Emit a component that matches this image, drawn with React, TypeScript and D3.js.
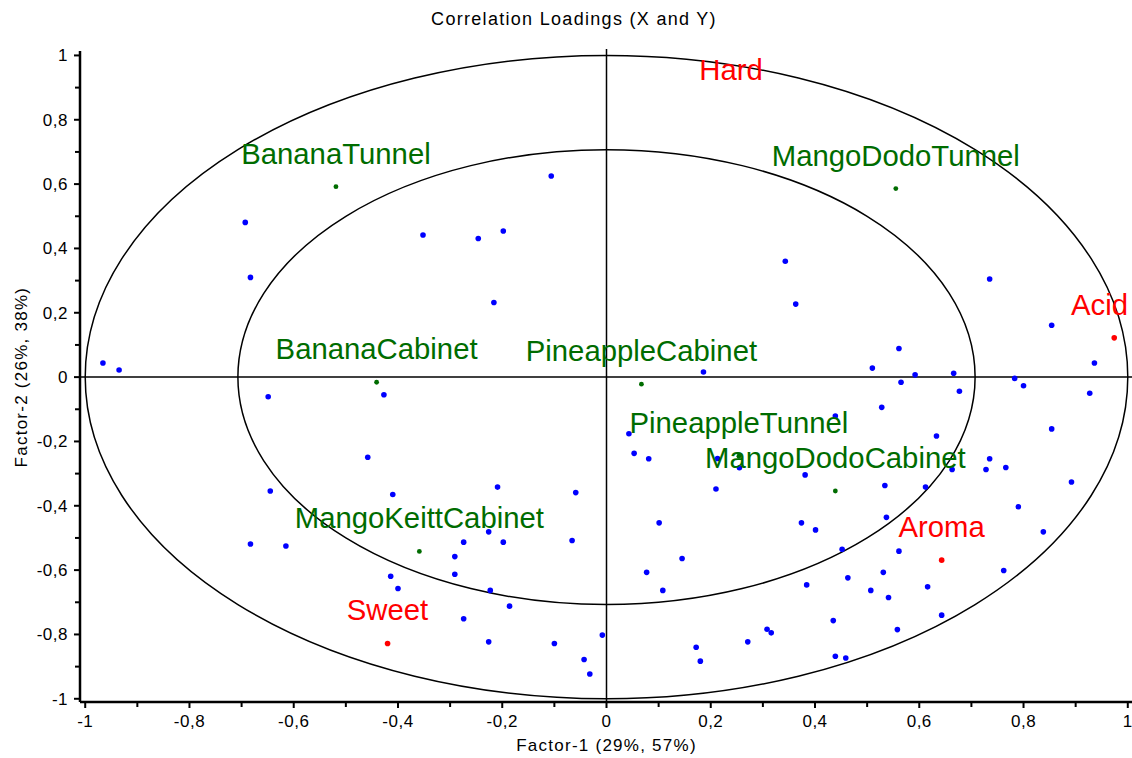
import React, { useEffect, useRef } from "react";
import * as d3 from "d3";

// ---- data ----
const blueX = [
  -0.966, -0.935, -0.693, -0.683, -0.352, -0.106, -0.198, -0.246, -0.216, 0.186,
  0.343, 0.363, 0.735, 0.854, 0.561, 0.936, 0.51, 0.592, 0.666, 0.783,
  0.565, 0.8, 0.677, 0.927, 0.528, 0.439, 0.854, 0.633, 0.735, 0.663,
  0.728, 0.766, 0.381, 0.534, 0.612, 0.892, 0.79, 0.374, 0.401, 0.537,
  0.838, 0.452, 0.561, 0.531, 0.762, 0.384, 0.463, 0.507, 0.541, 0.616,
  0.643, 0.435, 0.558, 0.439, 0.459, 0.043, 0.053, 0.081, 0.213, 0.255,
  0.21, 0.101, 0.145, 0.077, 0.108, -0.209, -0.059, -0.226, -0.274, -0.198,
  -0.066, -0.291, -0.291, -0.223, -0.186, -0.274, -0.226, -0.1, -0.008, -0.043,
  -0.032, 0.172, 0.18, 0.271, 0.308, 0.316, -0.649, -0.427, -0.458, -0.41,
  -0.645, -0.683, -0.615, -0.414, -0.4,
];
const blueY = [
  0.044, 0.022, 0.481, 0.31, 0.442, 0.625, 0.454, 0.431, 0.232, 0.016,
  0.36, 0.227, 0.305, 0.161, 0.089, 0.044, 0.028, 0.007, 0.012, -0.004,
  -0.016, -0.027, -0.044, -0.05, -0.094, -0.121, -0.161, -0.183, -0.254, -0.287,
  -0.287, -0.281, -0.304, -0.337, -0.342, -0.326, -0.403, -0.453, -0.475, -0.436,
  -0.481, -0.535, -0.541, -0.607, -0.601, -0.646, -0.624, -0.663, -0.685, -0.652,
  -0.74, -0.757, -0.785, -0.868, -0.873, -0.176, -0.237, -0.254, -0.253, -0.282,
  -0.348, -0.453, -0.564, -0.607, -0.663, -0.342, -0.359, -0.481, -0.513, -0.513,
  -0.508, -0.558, -0.613, -0.663, -0.712, -0.751, -0.823, -0.828, -0.802, -0.878,
  -0.923, -0.84, -0.883, -0.823, -0.784, -0.795, -0.061, -0.055, -0.249, -0.365,
  -0.354, -0.519, -0.525, -0.619, -0.657,
];

const greenNames = [
  "BananaTunnel", "BananaCabinet", "PineappleCabinet", "MangoDodoTunnel",
  "PineappleTunnel", "MangoDodoCabinet", "MangoKeittCabinet",
];
const greenX = [-0.519, -0.441, 0.067, 0.555, 0.254, 0.439, -0.359];
const greenY = [0.592, -0.016, -0.022, 0.586, -0.246, -0.354, -0.542];

const redNames = ["Hard", "Acid", "Aroma", "Sweet"];
const redX = [0.239, 0.974, 0.643, -0.42];
const redY = [1.06, 0.122, -0.569, -0.828];

const majorTicks = [-1, -0.8, -0.6, -0.4, -0.2, 0, 0.2, 0.4, 0.6, 0.8, 1];
const minorTicks = [-0.9, -0.7, -0.5, -0.3, -0.1, 0.1, 0.3, 0.5, 0.7, 0.9];

const title = "Correlation Loadings (X and Y)";
const xTitle = "Factor-1 (29%, 57%)";
const yTitle = "Factor-2 (26%, 38%)";

const W = 1132;
const H = 758;
const FONT = "'Liberation Sans', Arial, sans-serif";
const GREEN = "#006c00";

export default function App() {
  const ref = useRef<SVGSVGElement | null>(null);

  useEffect(() => {
    const svg = d3.select(ref.current);
    svg.selectAll("*").remove();

    const left = 80, right = 1133, top = 49, bottom = 702;
    const x = d3.scaleLinear().domain([-1.01, 1.01]).range([left, right]);
    const y = d3.scaleLinear().domain([-1.01, 1.02]).range([bottom, top]);
    const loc = d3.formatLocale({ decimal: ",", thousands: ".", grouping: [3], currency: ["", ""], minus: "-" });
    const fmt = loc.format(".1~f");

    svg.append("defs").append("clipPath").attr("id", "plotclip")
      .append("rect").attr("x", left).attr("y", top).attr("width", right - left).attr("height", bottom - top);

    // title
    svg.append("text").attr("x", 574).attr("y", 25).attr("text-anchor", "middle")
      .attr("font-family", FONT).attr("font-size", 18).attr("letter-spacing", 1.3)
      .text(title);

    const g = svg.append("g");

    // ellipses
    const cx = x(0), cy = y(0);
    [1, Math.SQRT1_2].forEach((r) => {
      g.append("ellipse").attr("cx", cx).attr("cy", cy)
        .attr("rx", x(r) - x(0)).attr("ry", y(0) - y(r))
        .attr("fill", "none").attr("stroke", "#000").attr("stroke-width", 1.5);
    });

    // zero lines
    g.append("line").attr("x1", left).attr("x2", right).attr("y1", cy).attr("y2", cy)
      .attr("stroke", "#000").attr("stroke-width", 1.5);
    g.append("line").attr("x1", cx).attr("x2", cx).attr("y1", top).attr("y2", bottom)
      .attr("stroke", "#000").attr("stroke-width", 1.5);

    // axes
    g.append("line").attr("x1", left).attr("x2", right).attr("y1", bottom).attr("y2", bottom)
      .attr("stroke", "#000").attr("stroke-width", 2.5);
    g.append("line").attr("x1", left).attr("x2", left).attr("y1", top + 2).attr("y2", bottom)
      .attr("stroke", "#000").attr("stroke-width", 2.5);

    majorTicks.forEach((t) => {
      g.append("line").attr("x1", x(t)).attr("x2", x(t)).attr("y1", bottom).attr("y2", bottom + 6)
        .attr("stroke", "#000").attr("stroke-width", 2);
      g.append("line").attr("x1", left - 6).attr("x2", left).attr("y1", y(t)).attr("y2", y(t))
        .attr("stroke", "#000").attr("stroke-width", 2);
      g.append("text").attr("x", x(t)).attr("y", 727).attr("text-anchor", "middle")
        .attr("font-family", FONT).attr("font-size", 17).attr("letter-spacing", 0.5).text(fmt(t));
      g.append("text").attr("x", 68).attr("y", y(t) + 6).attr("text-anchor", "end")
        .attr("font-family", FONT).attr("font-size", 17).attr("letter-spacing", 0.5).text(fmt(t));
    });
    minorTicks.forEach((t) => {
      g.append("line").attr("x1", x(t)).attr("x2", x(t)).attr("y1", bottom).attr("y2", bottom + 5)
        .attr("stroke", "#000").attr("stroke-width", 2);
      g.append("line").attr("x1", left - 5).attr("x2", left).attr("y1", y(t)).attr("y2", y(t))
        .attr("stroke", "#000").attr("stroke-width", 2);
    });

    // axis titles
    svg.append("text").attr("x", x(0)).attr("y", 751).attr("text-anchor", "middle")
      .attr("font-family", FONT).attr("font-size", 17).attr("letter-spacing", 1.25).text(xTitle);
    svg.append("text").attr("transform", `translate(27,${y(0)}) rotate(-90)`).attr("text-anchor", "middle")
      .attr("font-family", FONT).attr("font-size", 17).attr("letter-spacing", 1.25).text(yTitle);

    const pg = g.append("g").attr("clip-path", "url(#plotclip)");

    // blue points
    pg.selectAll("circle.b").data(d3.range(blueX.length)).enter().append("circle")
      .attr("cx", (i) => x(blueX[i])).attr("cy", (i) => y(blueY[i])).attr("r", 2.8).attr("fill", "#0000ff");

    const addLabels = (names: string[], xs: number[], ys: number[], color: string, r: number) => {
      names.forEach((n, i) => {
        const px = x(xs[i]), py = y(ys[i]);
        pg.append("circle").attr("cx", px).attr("cy", py).attr("r", r).attr("fill", color);
        const t = g.append("text").attr("x", px).attr("y", Math.max(py - 23, top + 31))
          .attr("text-anchor", "middle").attr("font-family", FONT).attr("font-size", 29.3)
          .attr("fill", color).text(n);
        const node = t.node() as SVGTextElement;
        const bb = node.getBBox();
        if (bb.x + bb.width > right - 5) {
          t.attr("x", px - (bb.x + bb.width - (right - 5)));
        }
      });
    };
    addLabels(greenNames, greenX, greenY, GREEN, 2.4);
    addLabels(redNames, redX, redY, "#ff0000", 2.8);
  }, []);

  return (
    <svg ref={ref} width={W} height={H} style={{ position: "absolute", left: 0, top: 0, background: "#fff" }} />
  );
}
